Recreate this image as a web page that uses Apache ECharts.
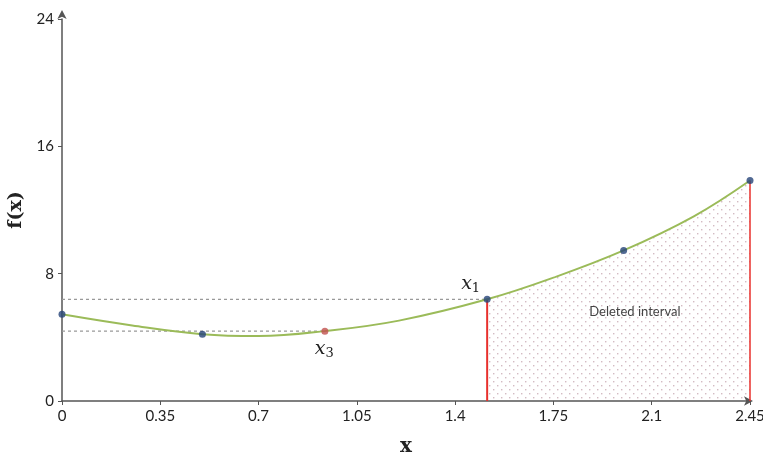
<!DOCTYPE html>
<html><head><meta charset="utf-8">
<script src="https://cdn.jsdelivr.net/npm/echarts@6/dist/echarts.min.js"></script>
<style>html,body{margin:0;padding:0;background:#fff}#c{width:763px;height:459px}</style>
</head><body><div id="c"></div>
<script>
// curve samples
const curveX = [0, 0.25, 0.5, 0.7, 0.936, 1.2, 1.514, 1.75, 2.0, 2.25, 2.45];
const curveY = [5.45, 4.75, 4.2, 4.08, 4.39, 5.05, 6.39, 7.75, 9.46, 11.6, 13.85];
// evaluated points
const blueX = [0, 0.5, 1.514, 2.0, 2.45];
const blueY = [5.45, 4.2, 6.39, 9.46, 13.85];
const redX = [0.936];
const redY = [4.39];
const x1 = 1.514, fx1 = 6.39;
const x3 = 0.936, fx3 = 4.39;
const xEnd = 2.45, fEnd = 13.85;
const xTicks = ['0', '0.35', '0.7', '1.05', '1.4', '1.75', '2.1', '2.45'];
const yTicks = ['0', '8', '16', '24'];

const curve = curveX.map((x, i) => [x, curveY[i]]);
const deleted = curve.filter(p => p[0] >= x1 - 1e-9);

const pc = document.createElement('canvas');
pc.width = 8; pc.height = 8;
const g = pc.getContext('2d');
g.fillStyle = 'rgba(200,170,180,0.8)';
g.fillRect(1, 1, 1.4, 1.4);
g.fillRect(5, 5, 1.4, 1.4);

const chart = echarts.init(document.getElementById('c'), null, {renderer: 'canvas'});
const tickFont = {fontFamily: 'Lato', fontSize: 15, color: '#222'};
chart.setOption({
  animation: false,
  grid: {left: 62, right: 13, top: 19, bottom: 58, containLabel: false, outerBoundsMode: 'none'},
  xAxis: {
    type: 'value', min: 0, max: 2.45, interval: 0.35,
    axisLine: {lineStyle: {color: '#555', width: 1.5}, symbol: ['none', 'arrow'], symbolSize: [7, 9], symbolOffset: [0, 3]},
    axisTick: {show: true, length: 4, lineStyle: {color: '#555'}},
    splitLine: {show: false},
    axisLabel: Object.assign({margin: 8, formatter: v => xTicks[Math.round(v / 0.35)]}, tickFont),
    name: 'x', nameLocation: 'middle', nameGap: 36,
    nameTextStyle: {fontFamily: 'DejaVu Serif', fontWeight: 'bold', fontSize: 20, color: '#222'}
  },
  yAxis: {
    type: 'value', min: 0, max: 24, interval: 8,
    axisLine: {show: true, lineStyle: {color: '#555', width: 1.5}, symbol: ['none', 'arrow'], symbolSize: [7, 9], symbolOffset: [0, 9]},
    axisTick: {show: true, length: 4, lineStyle: {color: '#555'}},
    splitLine: {show: false},
    axisLabel: Object.assign({margin: 8, formatter: v => yTicks[Math.round(v / 8)]}, tickFont),
    name: 'f(x)', nameLocation: 'middle', nameGap: 36,
    nameTextStyle: {fontFamily: 'DejaVu Serif', fontWeight: 'bold', fontSize: 19, color: '#222'}
  },
  series: [
    {type: 'line', data: deleted, smooth: 0.4, symbol: 'none', lineStyle: {width: 0},
     areaStyle: {color: {image: pc, repeat: 'repeat'}, opacity: 1}, z: 1},
    {type: 'line', data: [[0, fx1], [x1, fx1]], symbol: 'none',
     lineStyle: {color: '#999', width: 1.2, type: [3, 3]}, z: 2},
    {type: 'line', data: [[0, fx3], [x3, fx3]], symbol: 'none',
     lineStyle: {color: '#999', width: 1.2, type: [3, 3]}, z: 2},
    {type: 'line', data: [[x1, 0], [x1, fx1]], symbol: 'none',
     lineStyle: {color: '#e8302c', width: 2}, z: 3},
    {type: 'line', data: [[xEnd, 0], [xEnd, fEnd]], symbol: 'none',
     lineStyle: {color: '#e8302c', width: 1.5}, z: 3},
    {type: 'line', data: curve, smooth: 0.4, symbol: 'none',
     lineStyle: {color: '#9bbb59', width: 2}, z: 4},
    {type: 'scatter', data: blueX.map((x, i) => [x, blueY[i]]), symbolSize: 7,
     itemStyle: {color: '#264478'}, z: 5},
    {type: 'scatter', data: redX.map((x, i) => [x, redY[i]]), symbolSize: 7,
     itemStyle: {color: '#c0504d'}, z: 5}
  ],
  graphic: []
});

function lbl(x, y, sub, dx, dy) {
  const p = chart.convertToPixel({gridIndex: 0}, [x, y]);
  return {
    type: 'text', x: p[0] + dx, y: p[1] + dy, z: 10,
    style: {
      text: '{x|x}{s|' + sub + '}',
      rich: {
        x: {fontFamily: 'DejaVu Serif', fontStyle: 'italic', fontSize: 19, fill: '#222'},
        s: {fontFamily: 'DejaVu Serif', fontSize: 13, fill: '#222', padding: [10, 0, 0, 0]}
      }
    }
  };
}
const pd = chart.convertToPixel({gridIndex: 0}, [2.04, 5.6]);
chart.setOption({
  graphic: [
    lbl(x1, fx1, '1', -26, -27),
    lbl(x3, fx3, '3', -10, 6),
    {type: 'text', x: pd[0], y: pd[1], z: 10,
     style: {text: 'Deleted interval', fontFamily: 'Lato', fontSize: 13, fill: '#444', align: 'center', verticalAlign: 'middle'}}
  ]
});
</script></body></html>
